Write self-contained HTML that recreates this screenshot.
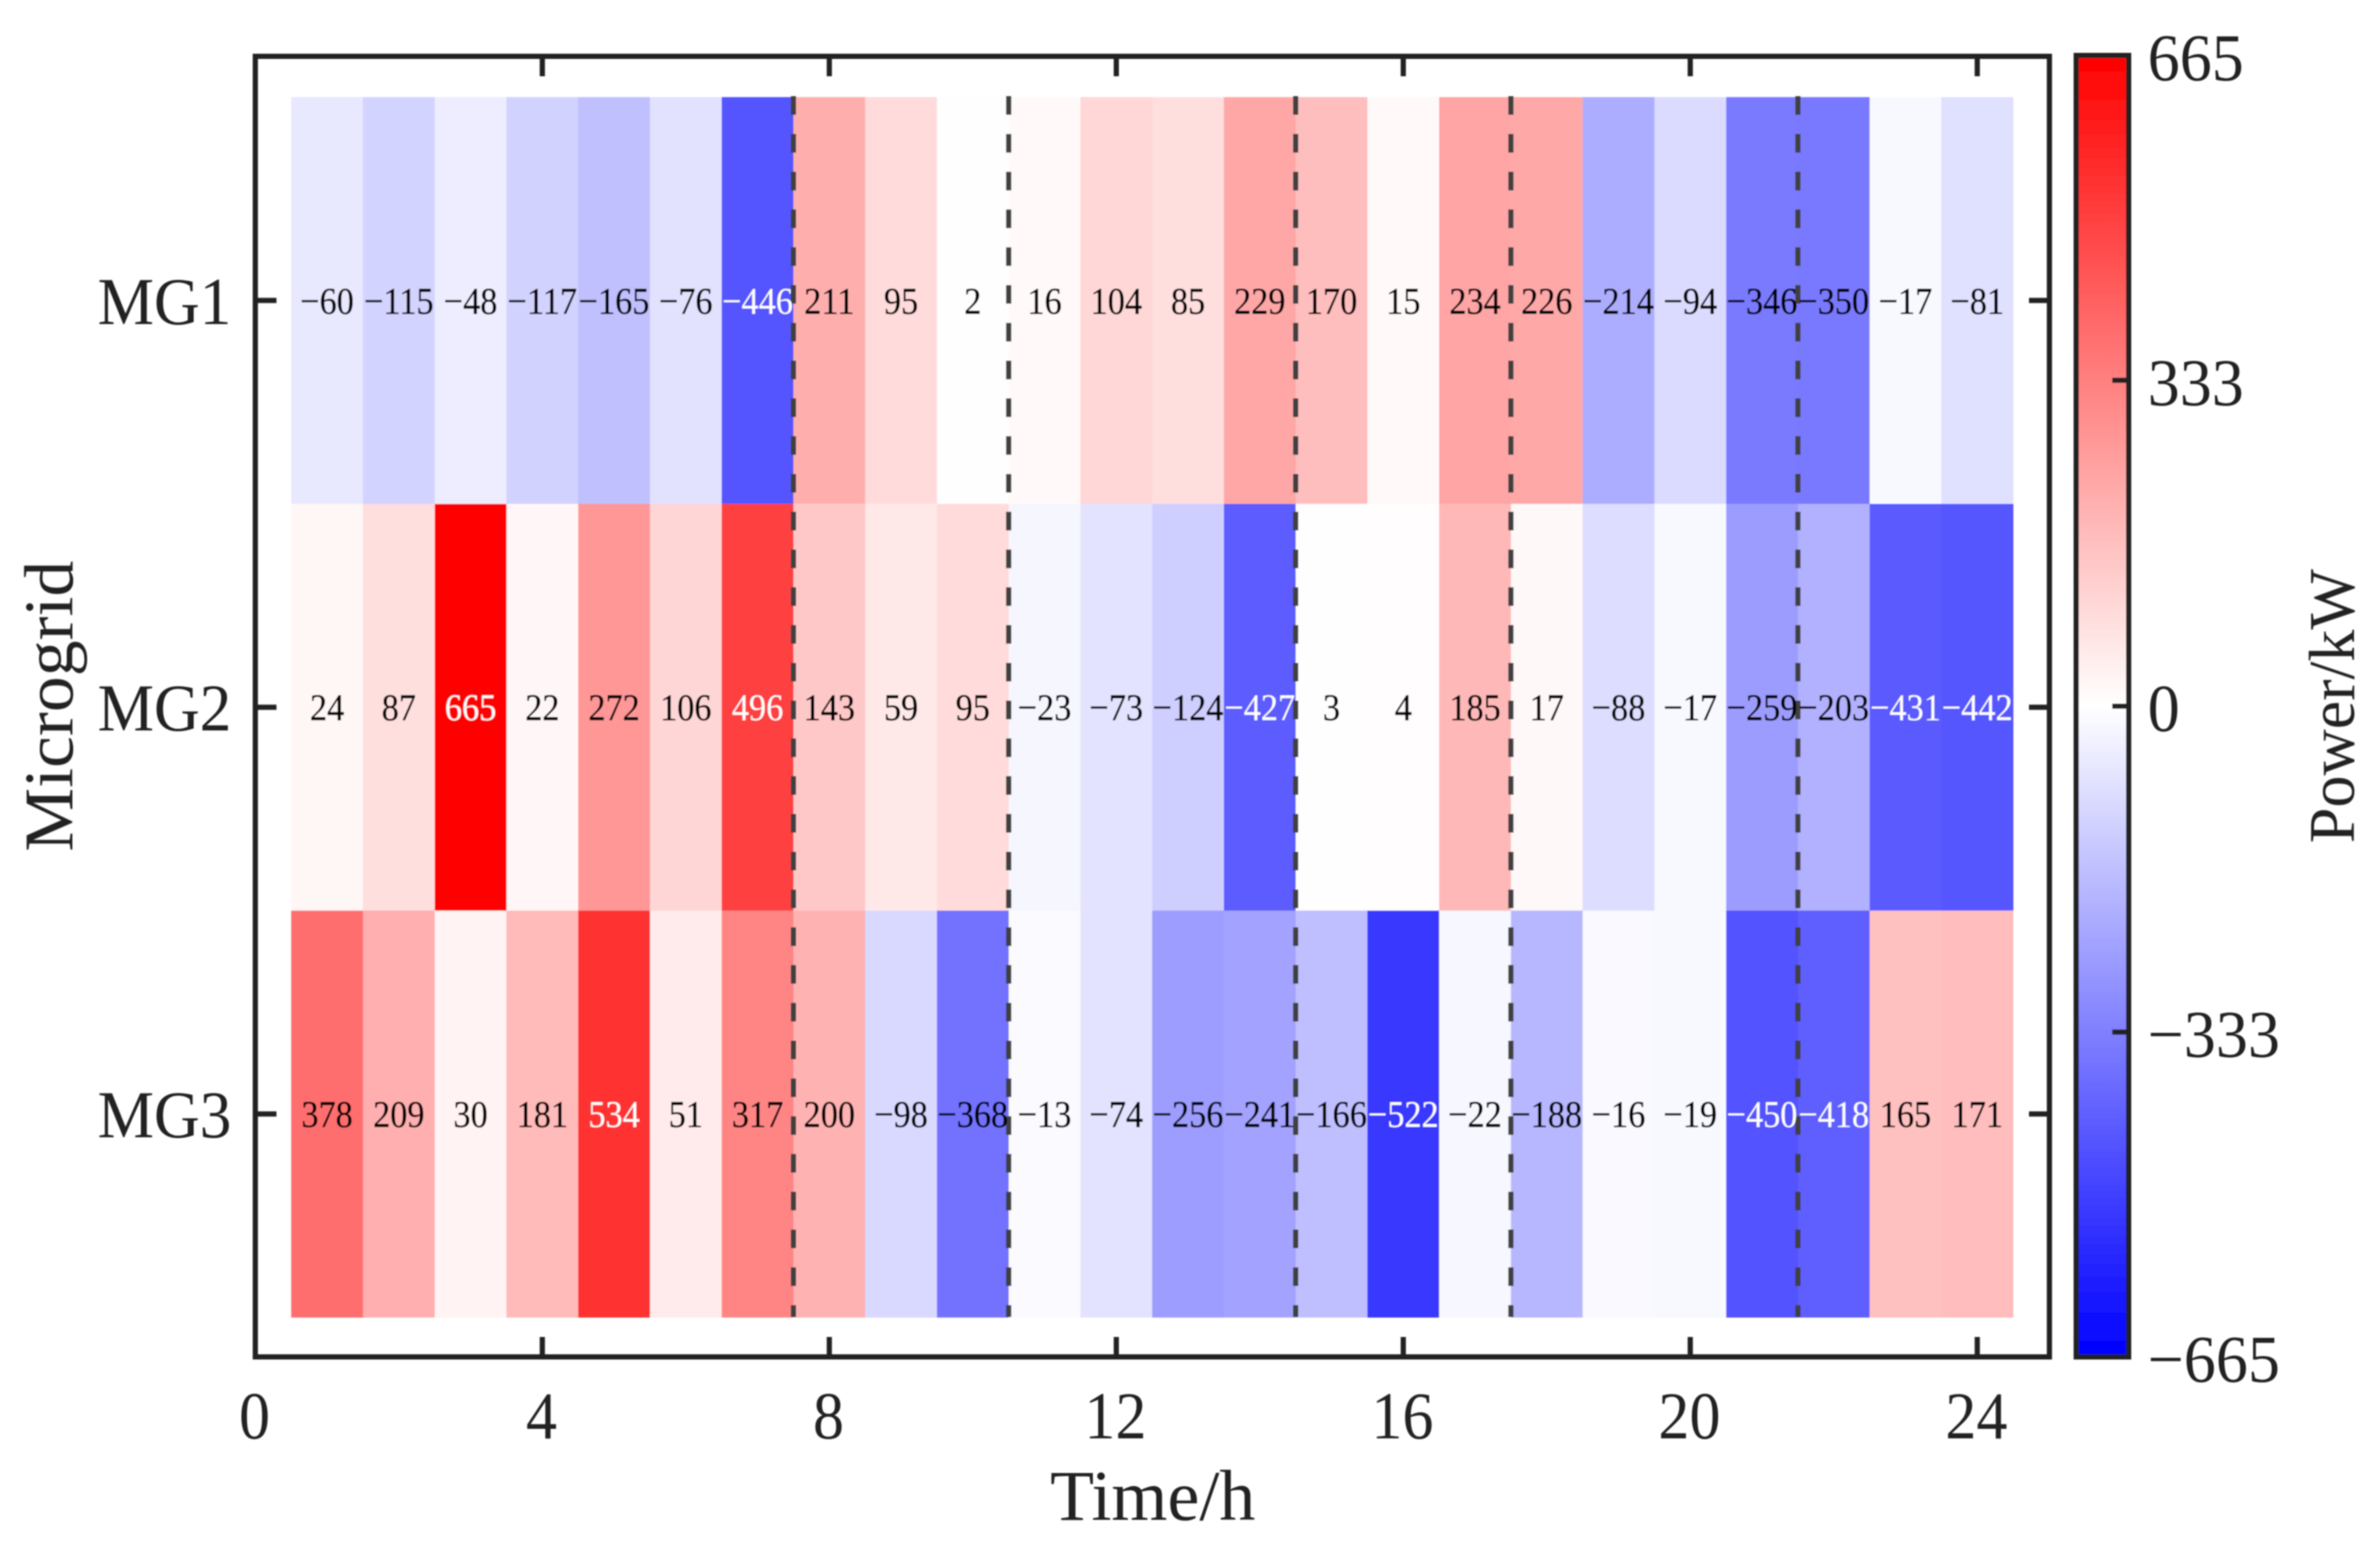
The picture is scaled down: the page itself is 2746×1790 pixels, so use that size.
<!DOCTYPE html>
<html lang="en">
<head>
<meta charset="utf-8">
<title>Microgrid power heatmap</title>
<style>
html,body{margin:0;padding:0;background:#fff;width:2746px;height:1790px;overflow:hidden}
svg{display:block}
text{font-family:"Liberation Serif","Times New Roman",serif}
</style>
</head>
<body>
<svg id="chart" xmlns="http://www.w3.org/2000/svg" width="2746" height="1790" viewBox="0 0 2746 1790">
  <defs>
    <linearGradient id="bwr" x1="0" y1="0" x2="0" y2="1">
      <stop offset="0" stop-color="#ff0000"/>
      <stop offset="0.5" stop-color="#ffffff"/>
      <stop offset="1" stop-color="#0000ff"/>
    </linearGradient>
    <filter id="soft" x="0" y="0" width="100%" height="100%" filterUnits="objectBoundingBox">
      <feGaussianBlur stdDeviation="0.7"/>
    </filter>
  </defs>
  <rect x="0" y="0" width="2746" height="1790" fill="#ffffff"/>
  <g id="root" filter="url(#soft)"></g>
</svg>
<script>
const rowLabels = ["MG1", "MG2", "MG3"];
const mg1Values = [-60, -115, -48, -117, -165, -76, -446, 211, 95, 2, 16, 104, 85, 229, 170, 15, 234, 226, -214, -94, -346, -350, -17, -81];
const mg2Values = [24, 87, 665, 22, 272, 106, 496, 143, 59, 95, -23, -73, -124, -427, 3, 4, 185, 17, -88, -17, -259, -203, -431, -442];
const mg3Values = [378, 209, 30, 181, 534, 51, 317, 200, -98, -368, -13, -74, -256, -241, -166, -522, -22, -188, -16, -19, -450, -418, 165, 171];
const xTickValues = [0, 4, 8, 12, 16, 20, 24];
const colorbarTicks = [665, 333, 0, -333, -665];
const dividerHours = [7.5, 10.5, 14.5, 17.5, 21.5];
const colorLimit = 665;

const series = [mg1Values, mg2Values, mg3Values];
const NS = "http://www.w3.org/2000/svg";
const root = document.getElementById("root");
const INK = "#222222";

function xScale(h) { return 294.6 + h * 82.78; }
function rowCenter(i) { return 346.8 + i * 469.4; }
function cbScale(v) { return 815 - (v / colorLimit) * 751; }
function minusText(v) { return String(v).replace("-", "\u2212"); }
function bwr(v) {
  const t = Math.min(1, Math.abs(v) / colorLimit);
  const c = Math.round(255 * (1 - t));
  return v >= 0 ? "rgb(255," + c + "," + c + ")" : "rgb(" + c + "," + c + ",255)";
}
function make(tag, attrs) {
  const el = document.createElementNS(NS, tag);
  for (const k in attrs) el.setAttribute(k, attrs[k]);
  root.appendChild(el);
  return el;
}
function label(str, x, y, size, anchor, sx, fill, rot) {
  const tf = "translate(" + x + "," + y + ")" + (rot ? " rotate(" + rot + ")" : "") + " scale(" + sx + ",1)";
  const el = make("text", { transform: tf, "font-size": size, "text-anchor": anchor, fill: fill });
  el.textContent = str;
  return el;
}

/* heatmap cells */
series.forEach(function (vals, r) {
  vals.forEach(function (v, c) {
    const x0 = xScale(c + 0.5), x1 = xScale(c + 1.5);
    const cell = make("rect", { x: x0, y: rowCenter(r) - 234.7, width: x1 - x0 + 0.3, height: 469.7, fill: bwr(v) });
    
    
  });
});

/* dashed dividers */
dividerHours.forEach(function (h) {
  const line = make("line", { x1: xScale(h), x2: xScale(h), y1: 111, y2: 1520, stroke: "#404040", "stroke-width": 6, "stroke-dasharray": "21.5 22.1" });
  
  
});

/* cell value labels */
series.forEach(function (vals, r) {
  vals.forEach(function (v, c) {
    const light = Math.abs(v) > 400;
    const t = label(minusText(v), xScale(c + 1), rowCenter(r) + 15, 43, "middle", 0.92, light ? "#ffffff" : "#000000");
    if (!light) {
      t.setAttribute("stroke", "#000000");
      t.setAttribute("stroke-width", "0.5");
    }
    
    
  });
});

/* axes frame */
const frame = make("rect", { x: 294.6, y: 65, width: 2070, height: 1501, fill: "none", stroke: INK, "stroke-width": 6 });



/* x ticks */
xTickValues.forEach(function (h) {
  const px = xScale(h);
  if (h !== 0) {
    const bottom = make("line", { x1: px, x2: px, y1: 1566, y2: 1543, stroke: INK, "stroke-width": 6 });
    
    
    const top = make("line", { x1: px, x2: px, y1: 65, y2: 88, stroke: INK, "stroke-width": 6 });
    
    
  }
  const t = label(String(h), px - 1, 1660, 77, "middle", 0.93, INK);
  
  
});

/* y ticks */
rowLabels.forEach(function (name, r) {
  const py = rowCenter(r);
  const left = make("line", { x1: 294.6, x2: 319, y1: py, y2: py, stroke: INK, "stroke-width": 6 });
  
  
  const right = make("line", { x1: 2364.6, x2: 2341, y1: py, y2: py, stroke: INK, "stroke-width": 6 });
  
  
  const t = label(name, 267, py + 27, 77, "end", 0.95, INK);
  
  
});

/* axis titles */
const xTitle = label("Time/h", 1330, 1754, 83, "middle", 1, INK);


const yTitle = label("Microgrid", 83.5, 815, 80, "middle", 1.035, INK, -90);



/* colorbar */
const cbFill = make("rect", { x: 2395.5, y: 64, width: 60.5, height: 1502, fill: "url(#bwr)", stroke: INK, "stroke-width": 6 });


colorbarTicks.forEach(function (v) {
  const py = cbScale(v);
  if (Math.abs(v) !== colorLimit) {
    const tick = make("line", { x1: 2456, x2: 2437, y1: py, y2: py, stroke: INK, "stroke-width": 6 });
    
    
  }
  const t = label(minusText(v), 2478, py + 28.5, 77, "start", 0.96, INK);
  
  
});
const cbTitle = label("Power/kW", 2716, 815, 75.5, "middle", 0.98, INK, -90);


</script>
</body>
</html>
